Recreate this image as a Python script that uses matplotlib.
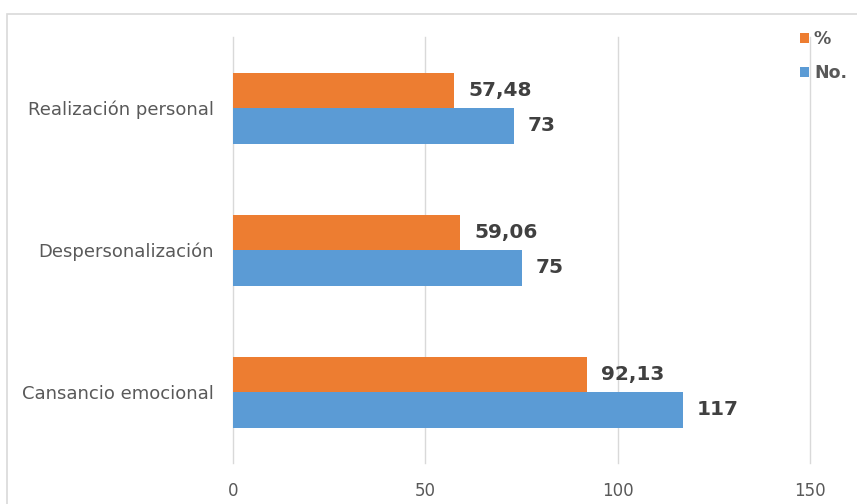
import matplotlib
matplotlib.use("Agg")
import matplotlib.pyplot as plt
from matplotlib.patches import Rectangle
import numpy as np

categories = ["Cansancio emocional", "Despersonalización", "Realización personal"]
pct_values = [92.13, 59.06, 57.48]
no_values = [117, 75, 73]
pct_labels = ["92,13", "59,06", "57,48"]
no_labels = ["117", "75", "73"]
xticks = [0, 50, 100, 150]

orange = "#ED7D31"
blue = "#5B9BD5"

fig = plt.figure(figsize=(8.57, 5.04), dpi=100)
fig.patches.append(Rectangle((7/857, -0.05), 1, 1.05 - 14/504, transform=fig.transFigure,
                             fill=False, edgecolor="#D9D9D9", linewidth=1.2))
ax = fig.add_axes([233/857, 41/504, (810-233)/857, (467-41)/504])

y = np.arange(len(categories))
h = 0.25
ax.barh(y - h/2, no_values, height=h, color=blue, label="No.")
ax.barh(y + h/2, pct_values, height=h, color=orange, label="%")

for yi, v, t in zip(y, no_values, no_labels):
    ax.annotate(t, (v, yi - h/2), xytext=(10, 0), textcoords="offset points",
                va="center", ha="left", fontsize=14.5, fontweight="bold", color="#404040")
for yi, v, t in zip(y, pct_values, pct_labels):
    ax.annotate(t, (v, yi + h/2), xytext=(10, 0), textcoords="offset points",
                va="center", ha="left", fontsize=14.5, fontweight="bold", color="#404040")

ax.set_xlim(0, 150)
ax.set_ylim(-0.5, 2.5)
ax.set_xticks(xticks)
ax.set_yticks(y)
ax.set_yticklabels(categories, fontsize=13)
ax.grid(axis="x", color="#D9D9D9", linewidth=1)
for gl in ax.get_xgridlines():
    gl.set_clip_on(False)
ax.set_axisbelow(True)
for s in ax.spines.values():
    s.set_visible(False)
ax.tick_params(axis="both", length=0, colors="#595959")
ax.tick_params(axis="x", labelsize=12, pad=14)
ax.tick_params(axis="y", pad=14)

handles, labels = ax.get_legend_handles_labels()
leg = fig.legend(handles[::-1], labels[::-1], loc="upper left",
                 bbox_to_anchor=(800/857, 1 - 30/504), borderpad=0, borderaxespad=0,
                 frameon=False, handlelength=0.5, handleheight=0.5, handletextpad=0.3,
                 labelspacing=0.95, prop={"weight": "bold", "size": 12.5})
for t in leg.get_texts():
    t.set_color("#595959")

fig.savefig("out.png", dpi=100)
